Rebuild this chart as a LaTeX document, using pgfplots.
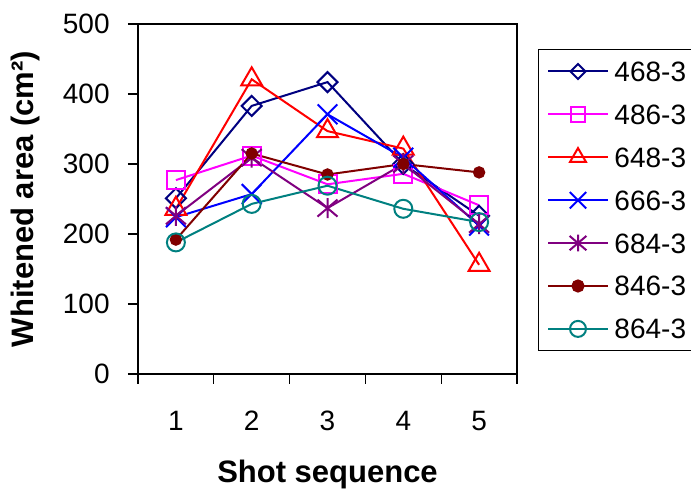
\documentclass[border=0pt]{standalone}
\usepackage{fontspec}
\setmainfont{Liberation Sans}
\usepackage{pgfplots}
\pgfplotsset{compat=1.18}

\definecolor{cnavy}{HTML}{000080}
\definecolor{cmag}{HTML}{FF00FF}
\definecolor{cred}{HTML}{FF0000}
\definecolor{cblue}{HTML}{0000FF}
\definecolor{cpurple}{HTML}{800080}
\definecolor{cdkred}{HTML}{800000}
\definecolor{cteal}{HTML}{008080}

% square turned on its corner, as Excel draws its diamond
\pgfdeclareplotmark{rdiamond}{%
  \pgfpathmoveto{\pgfqpoint{0pt}{\pgfplotmarksize}}%
  \pgfpathlineto{\pgfqpoint{\pgfplotmarksize}{0pt}}%
  \pgfpathlineto{\pgfqpoint{0pt}{-\pgfplotmarksize}}%
  \pgfpathlineto{\pgfqpoint{-\pgfplotmarksize}{0pt}}%
  \pgfpathclose\pgfusepathqstroke}
% x with a vertical bar, as Excel draws its star
\pgfdeclareplotmark{xstar}{%
  \pgfpathmoveto{\pgfqpoint{-\pgfplotmarksize}{-.85\pgfplotmarksize}}%
  \pgfpathlineto{\pgfqpoint{\pgfplotmarksize}{.85\pgfplotmarksize}}%
  \pgfpathmoveto{\pgfqpoint{-\pgfplotmarksize}{.85\pgfplotmarksize}}%
  \pgfpathlineto{\pgfqpoint{\pgfplotmarksize}{-.85\pgfplotmarksize}}%
  \pgfpathmoveto{\pgfqpoint{0pt}{-\pgfplotmarksize}}%
  \pgfpathlineto{\pgfqpoint{0pt}{\pgfplotmarksize}}%
  \pgfusepathqstroke}

\begin{document}
\begin{tikzpicture}
\begin{axis}[
  scale only axis,
  width=189.5pt, height=175pt,
  xmin=0.5, xmax=5.5,
  ymin=0, ymax=500,
  ytick={0,100,...,500},
  xtick={0.5,1.5,...,5.5},
  xticklabels={},
  extra x ticks={1,2,3,4,5},
  extra x tick style={major tick length=0pt,
    xticklabel style={anchor=center, inner sep=0pt, yshift=-23.6pt}},
  tick pos=left,
  tick align=outside,
  major tick length=5pt,
  tick style={black, line width=0.6pt},
  axis line style={line width=0.8pt},
  /pgf/number format/assume math mode=true,
  tick label style={font=\fontsize{14}{16}\selectfont},
  yticklabel style={anchor=east, inner sep=0pt, xshift=-9pt},
  xlabel={\textbf{Shot sequence}},
  ylabel={\textbf{Whitened area (cm²)}},
  label style={font=\fontsize{15.5}{18}\selectfont},
  xlabel style={at={(axis description cs:0.5,0)}, anchor=center, yshift=-50.25pt},
  ylabel style={at={(axis description cs:0,0.5)}, anchor=center, yshift=56.5pt},
  every axis plot/.append style={line width=1pt},
  legend cell align=left,
  legend image code/.code={%
    \draw[mark repeat=2, mark phase=2] plot coordinates {(0pt,0pt) (14.75pt,0pt) (29.5pt,0pt)};},
  legend style={at={(1.0554,0.9286)}, anchor=north west,
    font=\fontsize{14}{16}\selectfont, draw=black, line width=0.5pt,
    inner xsep=4.5pt, inner ysep=6pt, row sep=11.45pt,
    nodes={inner sep=0pt, text height=10pt, text depth=0pt},
    /tikz/every odd column/.append style={column sep=3pt}},
]
\addplot[forget plot, color=cnavy, mark=rdiamond, mark size=5pt] coordinates {(1,251) (2,383) (3,417) (4,300) (5,226)};
\addplot[forget plot, color=cmag, mark=square, mark size=4.5pt] coordinates {(1,277) (2,312) (3,271) (4,286) (5,241)};
\addplot[forget plot, color=cred, mark=triangle, mark size=6pt] coordinates {(1,236) (2,421) (3,347) (4,322) (5,156)};
\addplot[forget plot, color=cblue, mark=x, mark size=7pt] coordinates {(1,224) (2,257) (3,371) (4,309) (5,212)};
\addplot[forget plot, color=cpurple, mark=xstar, mark size=5pt] coordinates {(1,226) (2,309) (3,237) (4,300) (5,214)};
\addplot[forget plot, color=cdkred, mark=*, mark size=2.6pt] coordinates {(1,192) (2,315) (3,285) (4,300) (5,288)};
\addplot[forget plot, color=cteal, mark=o, mark size=4.5pt] coordinates {(1,188) (2,243) (3,269) (4,236) (5,217)};

\addlegendimage{color=cnavy, line width=1pt, mark=rdiamond, mark size=3.75pt}
\addlegendentry{468-3}
\addlegendimage{color=cmag, line width=1pt, mark=square, mark size=3.6pt}
\addlegendentry{486-3}
\addlegendimage{color=cred, line width=1pt, mark=triangle, mark size=4.6pt}
\addlegendentry{648-3}
\addlegendimage{color=cblue, line width=1pt, mark=x, mark size=5.8pt}
\addlegendentry{666-3}
\addlegendimage{color=cpurple, line width=1pt, mark=xstar, mark size=4.2pt}
\addlegendentry{684-3}
\addlegendimage{color=cdkred, line width=1pt, mark=*, mark size=2.8pt}
\addlegendentry{846-3}
\addlegendimage{color=cteal, line width=1pt, mark=o, mark size=4pt}
\addlegendentry{864-3}
\end{axis}
\pgfresetboundingbox
\path[use as bounding box] (-69pt,-58.5pt) rectangle (276.5pt,187pt);
\end{tikzpicture}
\end{document}
